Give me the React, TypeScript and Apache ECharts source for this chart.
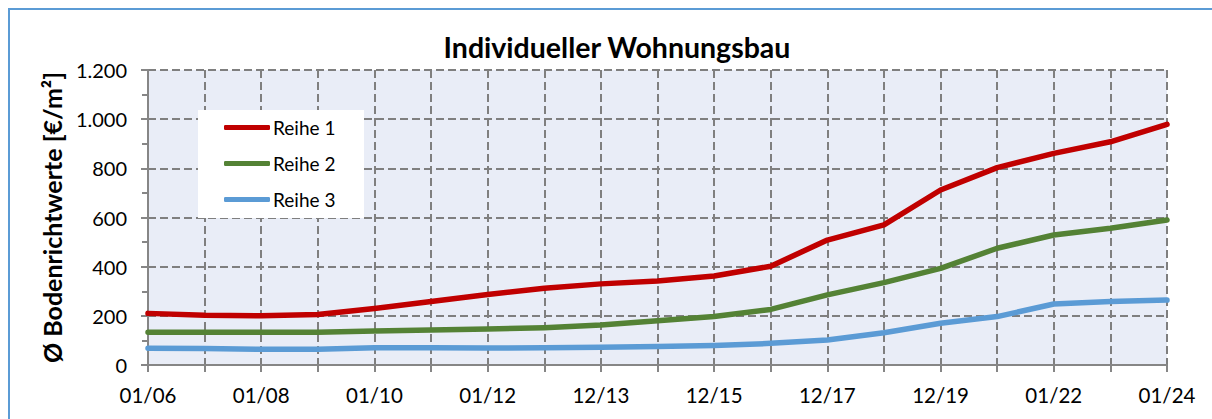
import React, { useEffect, useRef } from "react";
import * as echarts from "echarts";

const categories = [
  "01/06", "01/07", "01/08", "01/09", "01/10", "01/11", "01/12", "12/12", "12/13", "12/14",
  "12/15", "12/16", "12/17", "12/18", "12/19", "12/20", "01/22", "01/23", "01/24",
];
const reihe1 = [210, 202, 200, 205, 230, 258, 287, 312, 330, 342, 362, 402, 508, 570, 712, 803, 861, 908, 979];
const reihe2 = [133, 133, 133, 133, 138, 142, 146, 152, 163, 180, 197, 226, 285, 335, 393, 475, 529, 556, 590];
const reihe3 = [68, 67, 64, 64, 70, 70, 69, 70, 72, 75, 79, 88, 102, 131, 170, 197, 248, 258, 264];
const yTicks = [0, 200, 400, 600, 800, 1000, 1200];

const FONT = "Lato";

function fmt(v: number): string {
  return String(v).replace(/\B(?=(\d{3})+(?!\d))/g, ".");
}

export default function App() {
  const ref = useRef<HTMLDivElement>(null);
  useEffect(() => {
    if (!ref.current) return;
    const chart = echarts.init(ref.current, undefined, { renderer: "svg" });
    const gridColor = "#7F7F7F";
    const mk = (name: string, data: number[], color: string) => ({
      name,
      type: "line",
      data,
      symbol: "none",
      smooth: false,
      lineStyle: { color, width: 5.5, cap: "round", join: "round" },
      itemStyle: { color },
    });
    chart.setOption({
      animation: false,
      backgroundColor: "#ffffff",
      textStyle: { fontFamily: FONT },
      title: {
        text: "Individueller Wohnungsbau",
        left: 612,
        top: 27,
        textAlign: "center",
        textStyle: { fontFamily: FONT, fontWeight: "bold", fontSize: 28.5, color: "#000" },
      },
      graphic: [
        {
          type: "rect",
          shape: { x: 9, y: 9, width: 1400, height: 600 },
          style: { fill: "none", stroke: "#5B9BD5", lineWidth: 2 },
          z: 100,
        },
        {
          type: "rect",
          shape: { x: 198, y: 110, width: 166, height: 108 },
          style: { fill: "#ffffff" },
          z: 5,
        },
      ],
      legend: {
        orient: "vertical",
        left: 224,
        top: 118,
        itemWidth: 46,
        itemHeight: 5,
        itemGap: 17,
        icon: "roundRect",
        padding: 0,
        z: 10,
        textStyle: { fontFamily: FONT, fontSize: 19, color: "#000", padding: [0, 0, 0, -2] },
        data: ["Reihe 1", "Reihe 2", "Reihe 3"],
      },
      grid: {
        left: 148,
        right: 45,
        top: 70,
        bottom: 54,
        show: true,
        backgroundColor: "#E9EDF7",
        borderWidth: 0,
      },
      xAxis: {
        type: "category",
        data: categories,
        boundaryGap: false,
        axisLine: { show: true, lineStyle: { color: "#868686", width: 2 } },
        axisTick: { show: true, interval: 0, length: 7, lineStyle: { color: "#868686", width: 2 } },
        axisLabel: { interval: 1, margin: 19, fontFamily: FONT, fontSize: 20.5, color: "#000" },
        splitLine: { show: true, interval: 0, lineStyle: { color: gridColor, width: 2, type: [8, 4] } },
      },
      yAxis: {
        type: "value",
        min: yTicks[0],
        max: yTicks[yTicks.length - 1],
        interval: 200,
        name: "Ø Bodenrichtwerte [€/m²]",
        nameLocation: "middle",
        nameGap: 81,
        nameTextStyle: { fontFamily: FONT, fontWeight: "bold", fontSize: 25, color: "#000" },
        axisLine: { show: true, lineStyle: { color: "#868686", width: 2 } },
        axisTick: { show: true, length: 7, lineStyle: { color: "#868686", width: 2 } },
        minorTick: { show: true, splitNumber: 2, length: 6, lineStyle: { color: "#868686", width: 2 } },
        axisLabel: { margin: 21, fontFamily: FONT, fontSize: 20, color: "#000", formatter: (v: number) => fmt(v) },
        splitLine: { show: true, lineStyle: { color: gridColor, width: 2, type: [8, 4] } },
      },
      series: [
        mk("Reihe 1", reihe1, "#C00000"),
        mk("Reihe 2", reihe2, "#548235"),
        mk("Reihe 3", reihe3, "#5B9BD5"),
      ],
    });
    return () => chart.dispose();
  }, []);
  return (
    <div
      ref={ref}
      style={{ position: "absolute", left: 0, top: 0, width: 1212, height: 419 }}
    />
  );
}
